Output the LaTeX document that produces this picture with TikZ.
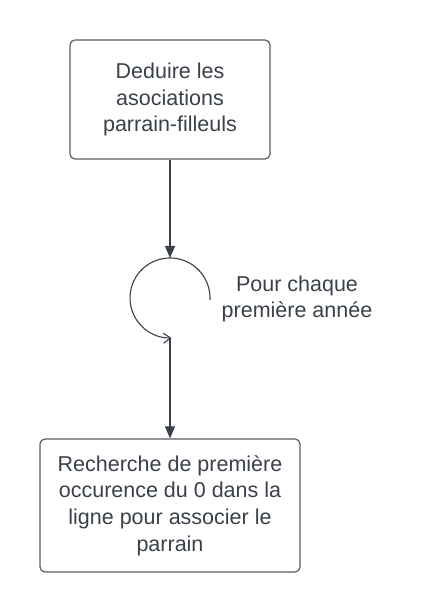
\documentclass[tikz,border=0pt]{standalone}
\usepackage{fontspec}
\setmainfont{Liberation Sans}
\usetikzlibrary{arrows.meta}
\definecolor{txt}{RGB}{58,65,74}
\definecolor{edge}{RGB}{88,94,104}
\begin{document}
\begin{tikzpicture}[x=1pt,y=1pt,
  box/.style={draw=edge,line width=1.2pt,rounded corners=5pt,align=center,
    text=txt,font=\fontsize{21.5}{26.7}\selectfont,inner sep=0pt},
  conn/.style={draw=txt,line width=1.1pt,-{Triangle[length=12pt,width=10pt]}},
  lbl/.style={text=txt,align=center,font=\fontsize{21.5}{26.7}\selectfont}]
\useasboundingbox[fill=white] (0,0) rectangle (430,612);
\node[box,minimum width=200pt,minimum height=119pt] (b1) at (170,512.5)
  {Deduire les\\asociations\\parrain-filleuls};
\node[box,minimum width=260pt,minimum height=133pt] (b2) at (170,106.5)
  {Recherche de première\\occurence du 0 dans la\\ligne pour associer le\\parrain};
\coordinate (lc) at (170,314);
\coordinate (ltop) at (170,354);
\coordinate (lbot) at (170,274);
\draw[conn] (b1.south) -- (ltop);
\draw[conn] (lbot) -- (b2.north);
\draw[draw=txt,line width=1.1pt,-{Straight Barb[length=7pt,width=10pt]}]
  ([shift={(-3:40)}]lc) arc[start angle=-3,end angle=272,radius=40];
\node[lbl] (t) at (297,313) {Pour chaque\\première année};
\end{tikzpicture}
\end{document}
